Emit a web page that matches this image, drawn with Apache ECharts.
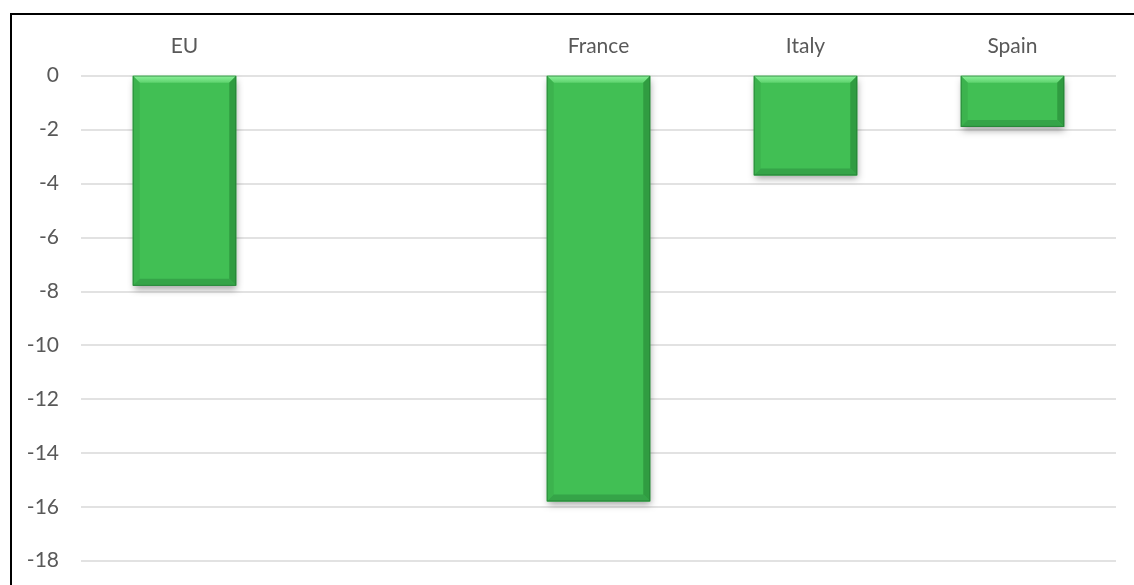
<!DOCTYPE html>
<html>
<head>
<meta charset="utf-8">
<script src="https://cdn.jsdelivr.net/npm/echarts@6/dist/echarts.min.js"></script>
<style>
  html, body { margin: 0; padding: 0; background: #fff; }
  #chart { width: 1134px; height: 585px; }
</style>
</head>
<body>
<div id="chart"></div>
<script>
// Change by region (bars hang down from zero)
const categories = ['EU', '', 'France', 'Italy', 'Spain'];
const values = [-7.8, null, -15.8, -3.7, -1.9];
const yTicks = { min: -18, max: 0, interval: 2 };

const chart = echarts.init(document.getElementById('chart'), null, { renderer: 'canvas' });

// Bevelled bar: flat face with lighter top edge, darker sides/bottom, soft drop shadow
function renderBevelBar(params, api) {
  const v = api.value(1);
  if (v === null || v === undefined || isNaN(v)) return null;
  const top = api.coord([api.value(0), 0]);
  const bot = api.coord([api.value(0), v]);
  const w = api.size([1, 0])[0] * 0.5;
  const x0 = top[0] - w / 2, x1 = top[0] + w / 2;
  const y0 = top[1], y1 = bot[1];
  const b = Math.min(7, (y1 - y0) / 2);
  return {
    type: 'group',
    children: [
      { type: 'rect', shape: { x: x0, y: y0, width: w, height: y1 - y0 },
        style: { fill: '#41BF54', shadowBlur: 7, shadowOffsetX: 1, shadowOffsetY: 4, shadowColor: 'rgba(0,0,0,0.35)' } },
      { type: 'polygon', shape: { points: [[x0, y0], [x1, y0], [x1 - b, y0 + b], [x0 + b, y0 + b]] },
        style: { fill: new echarts.graphic.LinearGradient(0, 0, 0, 1, [
          { offset: 0, color: '#8CF29B' }, { offset: 1, color: '#5ED36E' }]) } },
      { type: 'polygon', shape: { points: [[x0, y0], [x0 + b, y0 + b], [x0 + b, y1 - b], [x0, y1]] },
        style: { fill: '#3CB34E' } },
      { type: 'polygon', shape: { points: [[x1, y0], [x1 - b, y0 + b], [x1 - b, y1 - b], [x1, y1]] },
        style: { fill: '#309C41' } },
      { type: 'polygon', shape: { points: [[x0, y1], [x0 + b, y1 - b], [x1 - b, y1 - b], [x1, y1]] },
        style: { fill: '#35A448' } },
      { type: 'rect', shape: { x: x0 + 0.5, y: y0 + 0.5, width: w - 1, height: y1 - y0 - 1 },
        style: { fill: null, stroke: 'rgba(30,110,45,0.55)', lineWidth: 1 } }
    ]
  };
}

chart.setOption({
  backgroundColor: '#ffffff',
  animation: false,
  textStyle: { fontFamily: 'Lato, "Open Sans", sans-serif' },
  grid: { left: 81, right: 18, top: 75.7, bottom: 24.3 },
  xAxis: {
    type: 'category',
    position: 'top',
    data: categories,
    axisLine: { show: false },
    axisTick: { show: false },
    axisLabel: { color: '#595959', fontSize: 21, margin: 19 }
  },
  yAxis: {
    type: 'value',
    min: yTicks.min,
    max: yTicks.max,
    interval: yTicks.interval,
    axisLine: { show: false },
    axisTick: { show: false },
    axisLabel: { color: '#595959', fontSize: 21, margin: 22 },
    splitLine: { lineStyle: { color: '#D9D9D9', width: 1.5 } }
  },
  series: [{
    type: 'custom',
    renderItem: renderBevelBar,
    data: categories.map((c, i) => [i, values[i]]),
    encode: { x: 0, y: 1 }
  }],
  graphic: [{
    type: 'polyline',
    silent: true,
    shape: { points: [[11, 585], [11, 14], [1134, 14]] },
    style: { stroke: '#000', lineWidth: 2, fill: null }
  }]
});
</script>
</body>
</html>
